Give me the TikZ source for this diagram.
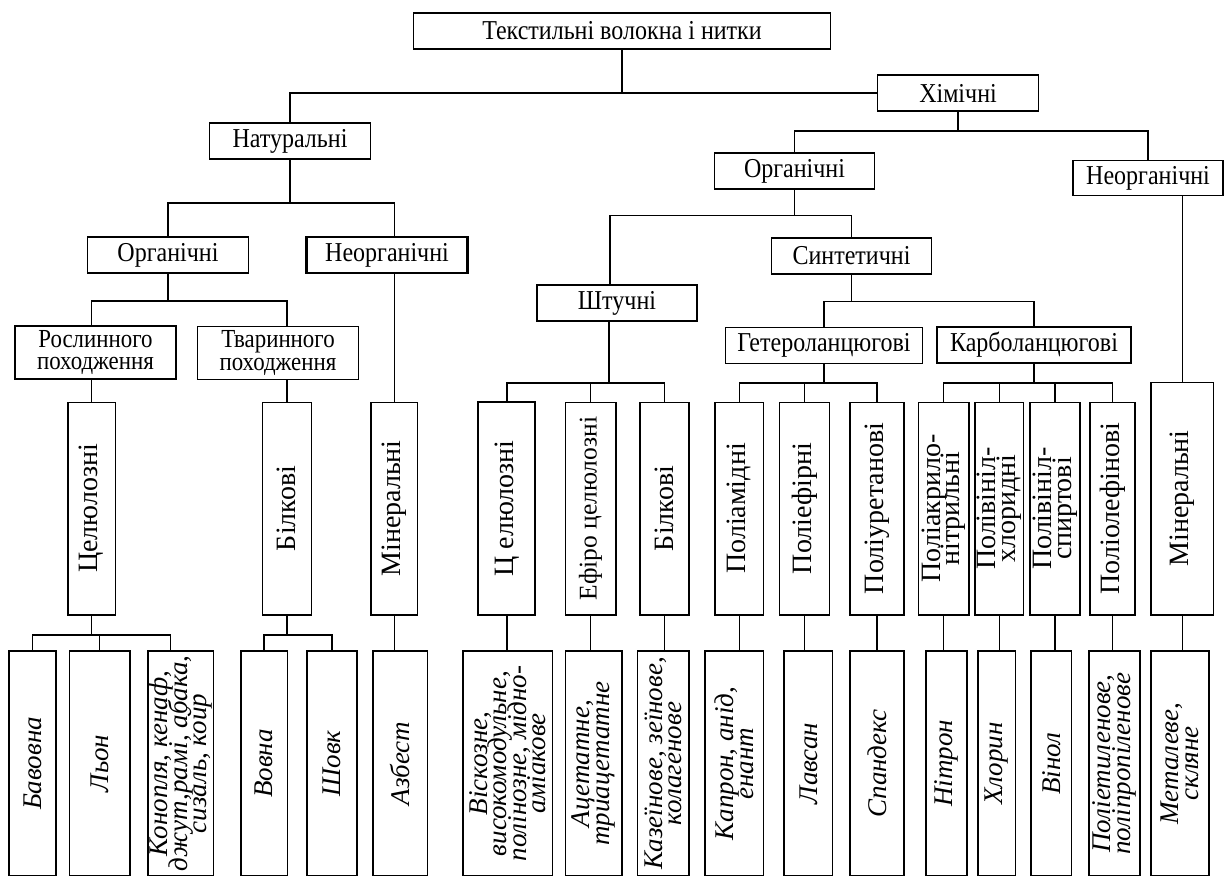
\documentclass[tikz,border=0pt]{standalone}
\usepackage{fontspec}
\setmainfont{Liberation Serif}
\newfontfamily\boxfont{Liberation Serif}[FakeStretch=0.88]
\newcommand\tightlines{\lineskiplimit-50pt\relax}

\tikzset{
  box/.style={draw, line width=1.6pt, inner sep=0pt, align=center,
    minimum width=161pt, minimum height=36pt,
    font={\boxfont\fontsize{27.3}{20}\selectfont\tightlines}},
  twoline/.style={box, minimum height=53pt,
    font={\boxfont\fontsize{26}{22.5}\selectfont\tightlines}},
  vbox/.style={box, rotate=90, minimum width=212.4pt,
    font={\fontsize{28}{19.5}\selectfont\tightlines}},
  leaf/.style={vbox, minimum width=225pt,
    font={\itshape\fontsize{27}{19.5}\selectfont\tightlines}},
  link/.style={line width=1.4pt},
}

\begin{document}
\begin{tikzpicture}[x=1pt, y=-1pt]
	\useasboundingbox (0,0) rectangle (1225,875);
	
	%%%%% upper levels %%%%%
	\node[box, minimum width=417pt] (title) at (622,31) {Текстильні волокна і нитки};
	\node[box] (nat) at (290,141) {Натуральні};
	\node[box] (him) at (958,93) {Хімічні};
	\node[box] (org1) at (168,255) {Органічні};
	\node[box, line width=2.2pt] (neorg1) at (387,255) {Неорганічні};
	\node[box, minimum width=160pt] (org2) at (794.5,171) {Органічні};
	\node[box, minimum width=150pt, minimum height=35pt] (neorg2) at (1148,178) {Неорганічні};
	\node[box, minimum width=160pt] (syn) at (851.5,256) {Синтетичні};
	\node[box, line width=2.2pt, minimum width=160pt] (art) at (617,303) {Штучні};
	\node[box, minimum width=197pt] (het) at (824,345.5) {Гетероланцюгові};
	\node[box, minimum width=194pt] (carb) at (1034,344.7) {Карболанцюгові};
	\node[twoline] (rosl) at (95.5,352.5) {Рослинного\\походження};
	\node[twoline] (tvar) at (278,353) {Тваринного\\походження};
	
	%%%%% vertical groups %%%%%
	\node[vbox, minimum height=47.6pt] (cel1) at (91.5,508.5) {Целюлозні};
	\node[vbox, minimum height=49pt] (bil1) at (286.8,508.5) {Білкові};
	\node[vbox, minimum height=46.7pt] (min1) at (394.3,508.5) {Мінеральні};
	\node[vbox, line width=2.2pt, minimum height=57pt] (cel2) at (506.8,508.5) {Ц елюлозні};
	\node[vbox, minimum height=50.4pt, font={\fontsize{25.5}{20}\selectfont}] (efir) at (590.5,508.5) {Ефіро целюлозні};
	\node[vbox, minimum height=49pt] (bil2) at (664.5,508.5) {Білкові};
	\node[vbox, minimum height=48.3pt] (pam) at (739.2,508.5) {Поліамідні};
	\node[vbox, minimum height=50pt] (pef) at (804.3,508.5) {Поліефірні};
	\node[vbox, minimum height=54pt] (pur) at (877,508.5) {Поліуретанові};
	\node[vbox, minimum height=50.4pt] (pan) at (943.5,508.5) {Поліакрило-\\нітрильні};
	\node[vbox, minimum height=48.3pt] (pvh) at (999.2,508.5) {Полівініл-\\хлоридні};
	\node[vbox, minimum height=50pt] (pvs) at (1055,508.5) {Полівініл-\\спиртові};
	\node[vbox, minimum height=45pt] (pol) at (1112.5,508.5) {Поліолефінові};
	\node[vbox, minimum width=232.4pt, minimum height=62.3pt] (min2) at (1182.2,498.5) {Мінеральні};
	
	%%%%% leaves %%%%%
	\node[leaf, minimum height=47pt] (bav) at (32.5,763.5) {Бавовна};
	\node[leaf, minimum height=60.4pt] (lon) at (99.5,763.5) {Льон};
	\node[leaf, minimum height=65.3pt] (kon) at (180.7,763.5) {Конопля, кенаф,\\джут,рамі, абака,\\сизаль, койр};
	\node[leaf, minimum height=46.6pt] (vov) at (264,763.5) {Вовна};
	\node[leaf, minimum height=49.7pt] (shovk) at (331.9,763.5) {Шовк};
	\node[leaf, minimum height=54.6pt] (azb) at (400,763.5) {Азбест};
	\node[leaf, minimum height=89.6pt] (visk) at (507.5,763.5) {Віскозне,\\високомодульне,\\полінозне, мідно-\\аміакове};
	\node[leaf, minimum height=56.4pt] (acet) at (593.5,763.5) {Ацетатне,\\триацетатне};
	\node[leaf, minimum height=51.3pt] (kaz) at (663.3,763.5) {Казеїнове, зеїнове,\\колагенове};
	\node[leaf, minimum height=58.3pt] (kap) at (734.2,763.5) {Капрон, анід,\\енант};
	\node[leaf, minimum height=48.7pt] (lav) at (808.3,763.5) {Лавсан};
	\node[leaf, minimum height=54pt] (spand) at (877,763.5) {Спандекс};
	\node[leaf, minimum height=41pt] (nitr) at (946.2,763.5) {Нітрон};
	\node[leaf, minimum height=37.7pt] (hlor) at (996.8,763.5) {Хлорин};
	\node[leaf, minimum height=40.7pt] (vin) at (1051.3,763.5) {Вінол};
	\node[leaf, minimum height=51pt] (polet) at (1114.5,763.5) {Поліетиленове,\\поліпропіленове};
	\node[leaf, minimum height=58.3pt] (met) at (1180,763.5) {Металеве,\\скляне};
	
	%%%%% connectors %%%%%
	\draw[link] (title.south) -- (title.south |- him.west);
	\draw[link] (nat.north) |- (him.west);
	
	\draw[link] (him.south) -- ++(0,19) coordinate (himfork);
	\draw[link] (org2.north) |- (himfork) -| (neorg2.north);
	
	\draw[link] (nat.south) -- ++(0,43) coordinate (natfork);
	\draw[link] (org1.north) |- (natfork) -| (min1.east |- neorg1.north);
	\draw[link] (neorg1.south -| min1.east) -- (min1.east);
	
	\draw[link] (org1.south) -- ++(0,27) coordinate (orgfork);
	\draw[link] (rosl.north -| cel1.east) |- (orgfork) -| (tvar.north -| bil1.east);
	\draw[link] (rosl.south -| cel1.east) -- (cel1.east);
	\draw[link] (tvar.south -| bil1.east) -- (bil1.east);
	
	\draw[link] (cel1.west) -- ++(0,19.5) coordinate (celfork);
	\draw[link] (bav.east) |- (celfork) -| ([xshift=-10pt]kon.east);
	\draw[link] (lon.east) -- (lon.east |- celfork);
	
	\draw[link] (bil1.west) -- ++(0,19.5) coordinate (bilfork);
	\draw[link] (vov.east) |- (bilfork) -| (shovk.east);
	
	\draw[link] (min1.west) -- (min1.west |- azb.east);
	
	\draw[link] (org2.south) -- ++(0,25.5) coordinate (org2fork);
	\draw[link] ([xshift=-7pt]art.north) |- (org2fork) -| (syn.north);
	
	\draw[link] ([xshift=-8pt]art.south) -- ++(0,61) coordinate (artfork);
	\draw[link] (cel2.east) |- (artfork) -| (bil2.east);
	\draw[link] (efir.east) -- (efir.east |- artfork);
	
	\draw[link] (syn.south) -- ++(0,26.7) coordinate (synfork);
	\draw[link] (het.north) |- (synfork) -| (carb.north);
	
	\draw[link] (het.south) -- ++(0,18.7) coordinate (hetfork);
	\draw[link] (pam.east) |- (hetfork) -| (pur.east);
	\draw[link] (pef.east) -- (pef.east |- hetfork);
	
	\draw[link] (carb.south) -- ++(0,19.3) coordinate (carbfork);
	\draw[link] (pan.east) |- (carbfork) -| (pol.east);
	\draw[link] (pvh.east) -- (pvh.east |- carbfork);
	\draw[link] (pvs.east) -- (pvs.east |- carbfork);
	
	\draw[link] (min2.east |- neorg2.south) -- (min2.east);
	
	\draw[link] (cel2.west) -- (cel2.west |- visk.east);
	\draw[link] (efir.west) -- (efir.west |- acet.east);
	\draw[link] (bil2.west) -- (bil2.west |- kaz.east);
	\draw[link] (pam.west) -- (pam.west |- kap.east);
	\draw[link] (pef.west) -- (pef.west |- lav.east);
	\draw[link] (pur.west) -- (pur.west |- spand.east);
	\draw[link] (pan.west) -- (pan.west |- nitr.east);
	\draw[link] (pvh.west) -- (pvh.west |- hlor.east);
	\draw[link] (pvs.west) -- (pvs.west |- vin.east);
	\draw[link] (pol.west) -- (pol.west |- polet.east);
	\draw[link] (min2.west) -- (min2.west |- met.east);
	
\end{tikzpicture}
\end{document}
